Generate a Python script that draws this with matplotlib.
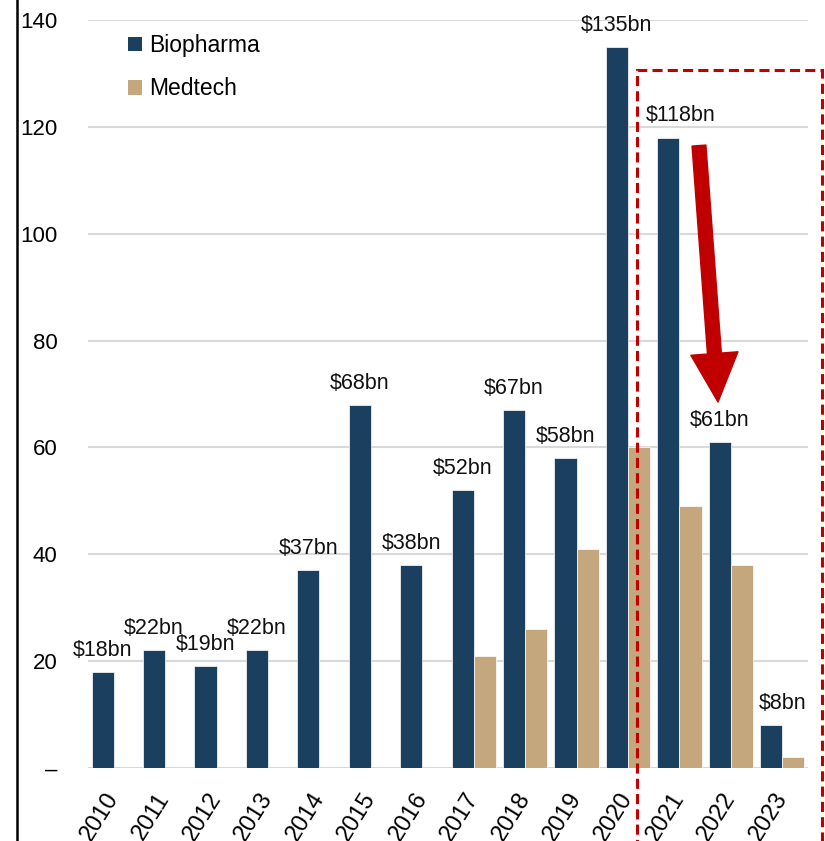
import matplotlib.pyplot as plt
import numpy as np
from matplotlib.patches import Patch, Rectangle
from matplotlib.lines import Line2D

plt.rcParams["font.family"] = ["Liberation Sans", "DejaVu Sans"]

years = ["2010", "2011", "2012", "2013", "2014", "2015", "2016",
         "2017", "2018", "2019", "2020", "2021", "2022", "2023"]
biopharma = [18, 22, 19, 22, 37, 68, 38, 52, 67, 58, 135, 118, 61, 8]
medtech = [0, 0, 0, 0, 0, 0, 0, 21, 26, 41, 60, 49, 38, 2]
yticks = [0, 20, 40, 60, 80, 100, 120, 140]
ytick_labels = ["–", "20", "40", "60", "80", "100", "120", "140"]

blue = "#1B3F5E"
tan = "#C4A77D"
red = "#C00000"
width = 0.43

fig = plt.figure(figsize=(8.25, 8.41), dpi=100)
ax = fig.add_axes([0.1067, 0.0868, 0.8727, 0.8894])

x = np.arange(len(years))
bars_bio = ax.bar(x - width / 2, biopharma, width=width, color=blue,
                  edgecolor="white", linewidth=0.5, zorder=3)
ax.bar(x + width / 2, medtech, width=width, color=tan,
       edgecolor="white", linewidth=0.5, zorder=3)

# value labels over the biopharma bars; a couple nudged right off the dashes
nudge = {"2021": 9, "2023": 8}
for yr, b, v in zip(years, bars_bio, biopharma):
    ax.annotate(f"${v}bn", (b.get_x() + b.get_width() / 2, v),
                xytext=(nudge.get(yr, 0), 8), textcoords="offset points",
                ha="center", va="bottom", fontsize=15.5, color="#111111")

ax.set_xlim(-0.5, len(years) - 0.5)
ax.set_ylim(0, 140)
ax.set_yticks(yticks)
ax.set_yticklabels(ytick_labels, fontsize=16)
ax.set_xticks(x)
ax.set_xticklabels(years, fontsize=17, rotation=58, ha="right",
                   va="center", rotation_mode="anchor")
ax.tick_params(axis="y", length=0, pad=22)
ax.tick_params(axis="x", length=0, pad=19)
ax.yaxis.grid(True, color="#D9D9D9", linewidth=1.5, zorder=0)
ax.set_axisbelow(True)
for s in ax.spines.values():
    s.set_visible(False)

handles = [Patch(facecolor=blue, label="Biopharma"),
           Patch(facecolor=tan, label="Medtech")]
ax.legend(handles=handles, loc="upper left", bbox_to_anchor=(0.056, 0.981),
          frameon=False, fontsize=16.5, handlelength=0.6, handleheight=0.6,
          handletextpad=0.3, labelspacing=0.88, borderpad=0, borderaxespad=0)

# dashed box around the decline period
ax.add_patch(Rectangle((10.17, -25), 3.6, 130.6 + 25, fill=False,
                       edgecolor=red, linewidth=2.2,
                       linestyle=(0, (3.3, 1.7)), clip_on=False, zorder=4))

ax.annotate("", xy=(11.75, 68.5), xytext=(11.38, 116.5),
            arrowprops=dict(facecolor=red, edgecolor=red, width=10,
                            headwidth=34, headlength=35, shrink=0),
            zorder=5)

fig.add_artist(Line2D([0.0206, 0.0206], [0, 1], color="black",
                      linewidth=1.8, transform=fig.transFigure))

fig.savefig("out.png", dpi=100)
